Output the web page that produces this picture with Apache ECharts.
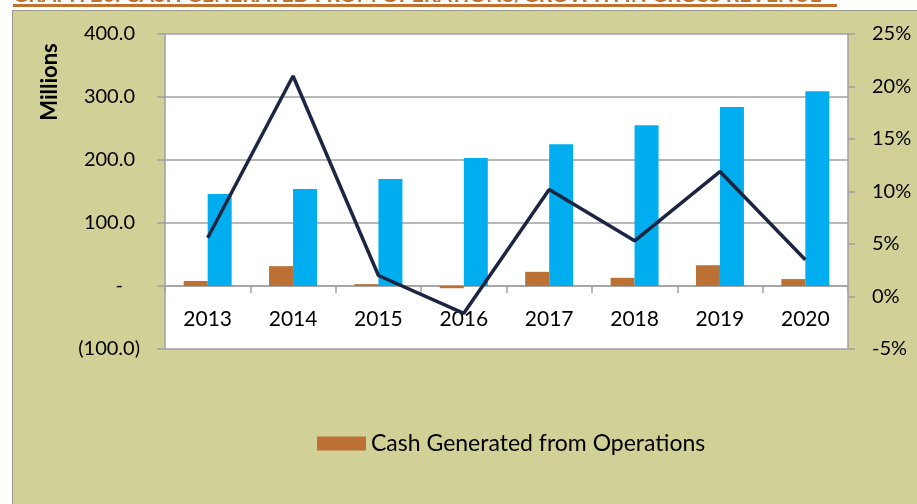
<!DOCTYPE html>
<html><head><meta charset="utf-8">
<script src="https://cdn.jsdelivr.net/npm/echarts@6/dist/echarts.min.js"></script>
<style>
html,body{margin:0;padding:0;background:#fff;overflow:hidden}
#bg{position:absolute;left:12px;top:10px;width:920px;height:500px;background:#d1d197;border-left:1.5px solid #9a9a8a;border-top:1.5px solid #9a9a8a}
#c{position:absolute;left:0;top:0;width:917px;height:504px}
</style>
</head><body><div id="bg"></div><div id="c"></div><script>
const years = ['2013','2014','2015','2016','2017','2018','2019','2020'];
const cashOps = [8, 31.5, 3, -3.5, 22.5, 13, 33, 11];
const grossRevenue = [146, 154, 170, 203, 225, 255, 284, 309];
const revenueGrowth = [5.6, 21.0, 2.0, -1.6, 10.2, 5.3, 11.9, 3.5];
const leftAxis = {min: -100, max: 400, interval: 100};
const rightAxis = {min: -5, max: 25, interval: 5};
const titleText = 'GRAPH 20: CASH GENERATED FROM OPERATIONS/GROWTH IN GROSS REVENUE';
const legendName = 'Cash Generated from Operations';

const FONT = 'Lato, "Open Sans", sans-serif';
const chart = echarts.init(document.getElementById('c'));
chart.setOption({
  animation: false,
  textStyle: {fontFamily: FONT},
  grid: {left: 165, right: 69, top: 34, bottom: 155, show: true, backgroundColor: '#ffffff', borderWidth: 0},
  legend: {
    data: [legendName], left: 312, top: 427, itemWidth: 49, itemHeight: 14, icon: 'rect',
    textStyle: {fontSize: 23, color: '#000', fontFamily: FONT}, itemGap: 6
  },
  graphic: [
    {type: 'text', left: 13, top: -15, style: {text: titleText, fill: '#c0712f', font: 'bold 21px ' + FONT}},
    {type: 'rect', shape: {x: 13, y: 4, width: 824, height: 3}, style: {fill: '#c0712f'}},
    {type: 'text', x: 50, y: 82, rotation: Math.PI / 2,
     style: {text: 'Millions', fill: '#000', font: 'bold 22px ' + FONT, align: 'center', verticalAlign: 'middle'}}
  ],
  xAxis: {
    type: 'category', data: years, offset: -63,
    axisLine: {onZero: false, lineStyle: {color: '#a0a0a0', width: 1.5}},
    axisTick: {show: true, length: 7, lineStyle: {color: '#a0a0a0', width: 1.5}},
    axisLabel: {fontSize: 21, color: '#000', margin: 23, fontFamily: FONT}
  },
  yAxis: [
    {
      type: 'value', min: leftAxis.min, max: leftAxis.max, interval: leftAxis.interval,
      axisLine: {show: true, lineStyle: {color: '#a0a0a0', width: 1.5}},
      axisTick: {show: true, length: 8, lineStyle: {color: '#a0a0a0', width: 1.5}},
      splitLine: {lineStyle: {color: '#a0a0a0', width: 1.5}},
      axisLabel: {
        margin: 25, color: '#000', fontSize: 20, fontFamily: FONT,
        formatter: function (v) {
          if (v === 0) return '{d|-}';
          if (v < 0) return '{n|(' + Math.abs(v).toFixed(1) + ')}';
          return '{p|' + v.toFixed(1) + '}';
        },
        rich: {
          p: {fontSize: 20, color: '#000', padding: [0, 5, 0, 0], fontFamily: FONT},
          n: {fontSize: 20, color: '#000', fontFamily: FONT},
          d: {fontSize: 20, color: '#000', padding: [0, 17, 0, 0], fontFamily: FONT}
        }
      }
    },
    {
      type: 'value', min: rightAxis.min, max: rightAxis.max, interval: rightAxis.interval, position: 'right',
      axisLine: {show: true, lineStyle: {color: '#a0a0a0', width: 1.5}},
      axisTick: {show: true, length: 7, lineStyle: {color: '#a0a0a0', width: 1.5}},
      splitLine: {show: false},
      axisLabel: {margin: 24, color: '#000', fontSize: 20, fontFamily: FONT, formatter: function (v) { return v + '%'; }}
    }
  ],
  series: [
    {name: legendName, type: 'bar', data: cashOps, yAxisIndex: 0, barWidth: 24, barGap: '0%',
     itemStyle: {color: '#bb7034'}},
    {name: 'Gross Revenue', type: 'bar', data: grossRevenue, yAxisIndex: 0, barWidth: 24, barGap: '0%',
     itemStyle: {color: '#00aeef'}},
    {name: 'Growth in Gross Revenue', type: 'line', data: revenueGrowth, yAxisIndex: 1,
     symbol: 'none', lineStyle: {color: '#1c2541', width: 3.5}, z: 5}
  ]
});
</script></body></html>
